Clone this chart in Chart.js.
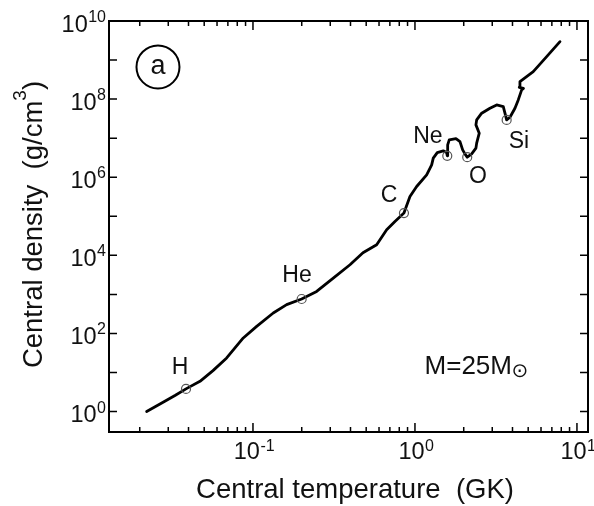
<!DOCTYPE html>
<html><head><meta charset="utf-8">
<script src="https://cdn.jsdelivr.net/npm/chart.js@4/dist/chart.umd.min.js"></script>
<style>html,body{margin:0;padding:0;background:#fff;}canvas{display:block;}</style>
</head><body>
<canvas id="c" width="594" height="506"></canvas>
<script>
// ---- data ----
const tempGK = [0.02207,0.02667,0.0330,0.03859,0.04710,0.05665,0.06881,0.08711,0.1054,0.1334,0.1614,0.1998,0.2472,0.3131,0.3971,0.4775,0.5801,0.6687,0.7524,0.8551,0.9314,1.0245,1.181,1.268,1.297,1.373,1.495,1.569,1.583,1.592,1.628,1.791,1.896,1.970,2.035,2.102,2.239,2.379,2.404,2.494,2.379,2.404,2.581,2.904,3.194,3.509,3.594,3.681,3.858,4.143,4.342,4.557,4.676,4.403,4.447,5.373,6.501,7.856];
const densityGcm3 = [1.0,1.56,2.57,3.81,5.96,11.2,23.6,76.7,152,334,546,763,1194,2624,5754,11640,18660,45190,73650,1.208e5,3.206e5,5.78e5,1.151e6,2.075e6,3.08e6,4.28e6,4.73e6,4.28e6,3.53e6,6.74e6,9.06e6,9.78e6,8.19e6,5.02e6,3.97e6,3.26e6,3.97e6,5.55e6,7.45e6,1.343e7,2.19e7,2.94e7,4.36e7,5.85e7,7.11e7,6.43e7,4.36e7,2.94e7,3.44e7,5.85e7,9.55e7,1.72e8,1.88e8,2.01e8,2.80e8,5.05e8,1.22e9,2.96e9];
const markerNames = ['H','He','C','Ne','O','Si'];
const markerTemp = [0.0386,0.1998,0.855,1.583,2.102,3.681];
const markerDensity = [3.81,763,1.208e5,3.53e6,3.26e6,2.94e7];
const labelTemp = [0.03543,0.1869,0.691,1.203,2.448,4.385];
const labelDensity = [15.0,3383,3.76e5,1.214e7,1.151e6,9.06e6];
const xTickValues = [0.1,1,10];
const xTickExponents = ['-1','0','1'];
const yTickValues = [1,1e2,1e4,1e6,1e8,1e10];
const yTickExponents = ['0','2','4','6','8','10'];
const xTitle = 'Central temperature  (GK)';
const yTitleMain = 'Central density  (g/cm';
const yTitleSup = '3';
const yTitleEnd = ')';
const massLabel = 'M=25M';
const sunSymbol = '\u2299';
const panelLabel = 'a';
const massLabelPos = {x:3.971, y:9.37};
const sunPos = {x:4.446, y:10.24};
const panelPos = {x:0.02592, y:6.66e8};

const FONT = '"Liberation Sans", Arial, Helvetica, sans-serif';

const overlay = {
  id:'overlay',
  afterDatasetsDraw(chart){
    const {ctx, chartArea:a, scales:{x,y}} = chart;
    ctx.save();
    ctx.strokeStyle='#000'; ctx.fillStyle='#111';
    // frame
    ctx.lineWidth=2;
    ctx.strokeRect(a.left,a.top,a.right-a.left,a.bottom-a.top);
    // ticks
    ctx.lineWidth=1.5;
    ctx.beginPath();
    for(let e=-2;e<=1;e++){
      for(let m=1;m<=9;m++){
        const v=m*Math.pow(10,e);
        if(v<x.min||v>x.max) continue;
        const px=x.getPixelForValue(v);
        const len = m===1?9:5;
        ctx.moveTo(px,a.bottom); ctx.lineTo(px,a.bottom-len);
        ctx.moveTo(px,a.top); ctx.lineTo(px,a.top+len);
      }
    }
    for(let e=0;e<=10;e++){
      const v=Math.pow(10,e);
      if(v<y.min||v>y.max) continue;
      const py=y.getPixelForValue(v);
      ctx.moveTo(a.left,py); ctx.lineTo(a.left+8,py);
      ctx.moveTo(a.right,py); ctx.lineTo(a.right-8,py);
    }
    ctx.stroke();
    // x tick labels
    ctx.textBaseline='alphabetic';
    xTickValues.forEach((v,i)=>{
      const px=x.getPixelForValue(v);
      ctx.font='23.5px '+FONT; const w1=ctx.measureText('10').width;
      ctx.font='16px '+FONT; const w2=ctx.measureText(xTickExponents[i]).width;
      const left=px-(w1+w2)/2+1;
      ctx.textAlign='left';
      ctx.font='23.5px '+FONT; ctx.fillText('10',left,a.bottom+27);
      ctx.font='16px '+FONT; ctx.fillText(xTickExponents[i],left+w1+0.5,a.bottom+19);
    });
    // y tick labels
    yTickValues.forEach((v,i)=>{
      const py=y.getPixelForValue(v);
      const right=a.left-3;
      ctx.font='16px '+FONT; const w2=ctx.measureText(yTickExponents[i]).width;
      ctx.textAlign='left'; ctx.fillText(yTickExponents[i],right-w2,py+1);
      ctx.font='23.5px '+FONT; ctx.textAlign='right'; ctx.fillText('10',right-w2-0.5,py+10.5);
    });
    // x title
    ctx.font='27.5px '+FONT; ctx.textAlign='center';
    ctx.fillText(xTitle,355,498);
    // y title
    ctx.save();
    ctx.translate(41.5,224.5); ctx.rotate(-Math.PI/2);
    ctx.font='27.5px '+FONT;
    const wMain=ctx.measureText(yTitleMain).width, wEnd=ctx.measureText(yTitleEnd).width;
    ctx.font='19px '+FONT; const wSup=ctx.measureText(yTitleSup).width;
    const start=-(wMain+wSup+wEnd)/2;
    ctx.textAlign='left';
    ctx.font='27.5px '+FONT; ctx.fillText(yTitleMain,start,0);
    ctx.font='19px '+FONT; ctx.fillText(yTitleSup,start+wMain,-16);
    ctx.font='27.5px '+FONT; ctx.fillText(yTitleEnd,start+wMain+wSup,0);
    ctx.restore();
    // marker labels
    ctx.font='23px '+FONT; ctx.textAlign='center';
    markerNames.forEach((n,i)=>{
      ctx.fillText(n,x.getPixelForValue(labelTemp[i]),y.getPixelForValue(labelDensity[i])+8);
    });
    // mass label
    ctx.font='26px '+FONT; ctx.textAlign='right';
    ctx.fillText(massLabel,x.getPixelForValue(massLabelPos.x),y.getPixelForValue(massLabelPos.y));
    ctx.font='20px "DejaVu Sans", sans-serif'; ctx.textAlign='center'; ctx.textBaseline='middle';
    ctx.fillText(sunSymbol,x.getPixelForValue(sunPos.x),y.getPixelForValue(sunPos.y));
    // panel label
    const cx=x.getPixelForValue(panelPos.x), cy=y.getPixelForValue(panelPos.y);
    ctx.lineWidth=2; ctx.beginPath(); ctx.arc(cx,cy,21.5,0,Math.PI*2); ctx.stroke();
    ctx.font='27px '+FONT; ctx.textAlign='center'; ctx.textBaseline='alphabetic';
    ctx.fillText(panelLabel,cx,cy+7);
    ctx.restore();
  }
};

new Chart(document.getElementById('c'),{
  type:'scatter',
  data:{datasets:[
    {data:tempGK.map((t,i)=>({x:t,y:densityGcm3[i]})),showLine:true,borderColor:'#000',borderWidth:2.8,
     pointRadius:0,tension:0,borderJoinStyle:'round',borderCapStyle:'round',order:2},
    {data:markerTemp.map((t,i)=>({x:t,y:markerDensity[i]})),showLine:false,pointRadius:4.5,
     pointBorderColor:'#555',pointBackgroundColor:'rgba(255,255,255,0)',pointBorderWidth:1.2,order:1}
  ]},
  options:{
    responsive:false,animation:false,devicePixelRatio:1,
    layout:{padding:{left:109,right:6,top:21,bottom:74}},
    plugins:{legend:{display:false},tooltip:{enabled:false}},
    scales:{
      x:{type:'logarithmic',display:false,min:0.01292,max:11.7},
      y:{type:'logarithmic',display:false,min:0.3076,max:1e10}
    }
  },
  plugins:[overlay]
});
</script>
</body></html>
